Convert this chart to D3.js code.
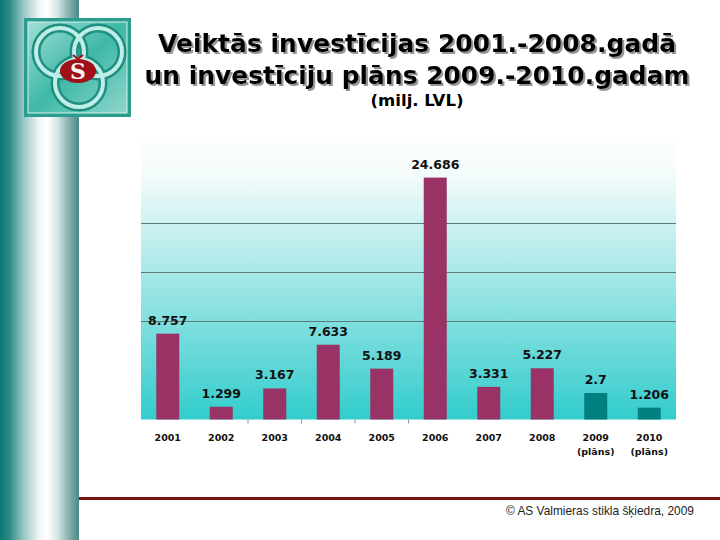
<!DOCTYPE html>
<html><head><meta charset="utf-8">
<script src="https://cdn.jsdelivr.net/npm/d3@7"></script>
<style>html,body{margin:0;padding:0;background:#fff;}svg{display:block;}</style>
</head><body>
<svg id="c" width="720" height="540"></svg>
<script>
const categories = ["2001","2002","2003","2004","2005","2006","2007","2008","2009","2010"];
const subLabels  = ["","","","","","","","","(plāns)","(plāns)"];
const values     = [8.757,1.299,3.167,7.633,5.189,24.686,3.331,5.227,2.7,1.206];
const valueText  = ["8.757","1.299","3.167","7.633","5.189","24.686","3.331","5.227","2.7","1.206"];
const isPlan     = [false,false,false,false,false,false,false,false,true,true];
const gridTicks  = [10,15,20];
const titleLines = ["Veiktās investīcijas 2001.-2008.gadā","un investīciju plāns 2009.-2010.gadam"];
const subtitle   = "(milj. LVL)";
const footer     = "© AS Valmieras stikla šķiedra, 2009";

const svg = d3.select("#c");
const defs = svg.append("defs");

// shadow filter for title
const f = defs.append("filter").attr("id","shadow").attr("x","-5%").attr("y","-20%").attr("width","110%").attr("height","150%");
f.append("feDropShadow").attr("dx",2).attr("dy",2).attr("stdDeviation",0.6).attr("flood-color","#8a8a8a").attr("flood-opacity",0.9);

// left strip gradient
const lg = defs.append("linearGradient").attr("id","strip").attr("x1","0").attr("x2","1").attr("y1","0").attr("y2","0");
[[0,"#0c7873"],[0.12,"#2e8a86"],[0.3,"#98c8c5"],[0.5,"#f2f7f7"],[0.6,"#ffffff"],[0.72,"#d9e7e7"],[0.86,"#8db3b2"],[1,"#4a8987"]]
  .forEach(([o,c])=>lg.append("stop").attr("offset",o).attr("stop-color",c));
svg.append("rect").attr("x",0).attr("y",0).attr("width",79).attr("height",540).attr("fill","url(#strip)");

// plot background gradient
const pg = defs.append("linearGradient").attr("id","plotbg").attr("x1","0").attr("x2","0").attr("y1","0").attr("y2","1");
[[0,"#ffffff"],[0.15,"#f3fbfb"],[1,"#33cccc"]].forEach(([o,c])=>pg.append("stop").attr("offset",o).attr("stop-color",c));

const plot = {left:141, right:676, top:132, bottom:419.5};
const x = d3.scaleBand().domain(categories).range([plot.left, plot.right]).paddingInner(0.57).paddingOuter(0.285);
const y = d3.scaleLinear().domain([0, 29]).range([plot.bottom, plot.bottom - 29*9.8]);

svg.append("rect").attr("x",plot.left).attr("y",plot.top).attr("width",plot.right-plot.left)
  .attr("height",plot.bottom-plot.top).attr("fill","url(#plotbg)");

// gridlines
svg.append("g").selectAll("line").data(gridTicks).join("line")
  .attr("x1",plot.left).attr("x2",plot.right)
  .attr("y1",d=>Math.round(y(d))+0.5).attr("y2",d=>Math.round(y(d))+0.5)
  .attr("stroke","#5f7878").attr("stroke-width",1.2);

// small tick marks under axis (between some categories)
const tickCats = categories.slice(2,6);
svg.append("g").selectAll("line").data(tickCats).join("line")
  .attr("x1",d=>x(d)-x.step()*x.paddingInner()/2).attr("x2",d=>x(d)-x.step()*x.paddingInner()/2)
  .attr("y1",plot.bottom).attr("y2",plot.bottom+4)
  .attr("stroke","#8a9a9a").attr("stroke-width",1);

// bars
svg.append("g").selectAll("rect").data(values).join("rect")
  .attr("x",(d,i)=>x(categories[i])).attr("width",x.bandwidth())
  .attr("y",d=>y(d)).attr("height",d=>y(0)-y(d))
  .attr("fill",(d,i)=>isPlan[i]?"#008080":"#993366");

// value labels
svg.append("g").selectAll("text").data(values).join("text")
  .attr("x",(d,i)=>x(categories[i])+x.bandwidth()/2).attr("y",d=>y(d)-9)
  .attr("text-anchor","middle").attr("font-family","DejaVu Sans").attr("font-weight","bold")
  .attr("font-size","12.5px").attr("fill","#111")
  .text((d,i)=>valueText[i]);

// category labels
const xl = svg.append("g").attr("font-family","DejaVu Sans").attr("font-weight","bold").attr("font-size","9.5px").attr("fill","#111").attr("text-anchor","middle");
xl.selectAll("text.cat").data(categories).join("text").attr("class","cat")
  .attr("x",d=>x(d)+x.bandwidth()/2).attr("y",441).text(d=>d);
xl.selectAll("text.sub").data(subLabels.map((s,i)=>({s,i})).filter(o=>o.s)).join("text").attr("class","sub")
  .attr("x",o=>x(categories[o.i])+x.bandwidth()/2).attr("y",455).text(o=>o.s);

// title with shadow
function fitText(sel, target){
  const w = sel.node().getComputedTextLength();
  const fs = parseFloat(sel.attr("font-size"));
  sel.attr("font-size", (fs*target/w).toFixed(2)+"px");
}
const titleCx = 417;
const tY = [52, 84];
const tW = [518, 545];
titleLines.forEach((t,i)=>{
  const tt = svg.append("text").attr("x",titleCx).attr("y",tY[i]).attr("text-anchor","middle")
    .attr("font-family","DejaVu Sans").attr("font-weight","bold").attr("font-size","24px").attr("fill","#000")
    .attr("filter","url(#shadow)").text(t);
  fitText(tt, tW[i]);
});
const st = svg.append("text").attr("x",417).attr("y",106).attr("text-anchor","middle")
  .attr("font-family","DejaVu Sans").attr("font-weight","bold").attr("font-size","14px").attr("fill","#000").text(subtitle);
fitText(st, 93);

// footer
svg.append("rect").attr("x",79).attr("y",497).attr("width",641).attr("height",3).attr("fill","#7a1414");
const ft = svg.append("text").attr("x",506).attr("y",515).attr("font-family","Liberation Sans").attr("font-size","11px").attr("fill","#222").text(footer);
fitText(ft, 188);

// logo
const logo = svg.append("g");
const lgb = defs.append("linearGradient").attr("id","logobg").attr("x1","0").attr("x2","1").attr("y1","0").attr("y2","1");
[[0,"#9fe0d8"],[0.5,"#3fb8a6"],[1,"#8fd6cc"]].forEach(([o,c])=>lgb.append("stop").attr("offset",o).attr("stop-color",c));
logo.append("rect").attr("x",24).attr("y",18).attr("width",107).attr("height",99).attr("fill","#2a9d8c");
logo.append("rect").attr("x",28).attr("y",22).attr("width",99).attr("height",91).attr("fill","url(#logobg)").attr("stroke","#d6f3ef").attr("stroke-width",1);
const rings = [[60,52],[98,52],[79,83]];
logo.selectAll("circle.r1").data(rings).join("circle").attr("cx",d=>d[0]).attr("cy",d=>d[1]).attr("r",24)
  .attr("fill","none").attr("stroke","#1f8f80").attr("stroke-width",9);
logo.selectAll("circle.r2").data(rings).join("circle").attr("cx",d=>d[0]).attr("cy",d=>d[1]).attr("r",24)
  .attr("fill","none").attr("stroke","#bfeee6").attr("stroke-width",4);
logo.append("ellipse").attr("cx",78).attr("cy",71).attr("rx",18).attr("ry",12).attr("fill","#a01018");
logo.append("text").attr("x",78).attr("y",79).attr("text-anchor","middle").attr("font-family","DejaVu Serif")
  .attr("font-weight","bold").attr("font-size","22px").attr("fill","#f4f4f4").text("S");
logo.append("path").attr("d","M73,55 L78,59 L83,55").attr("fill","none").attr("stroke","#a01018").attr("stroke-width",2);
</script>
</body></html>
